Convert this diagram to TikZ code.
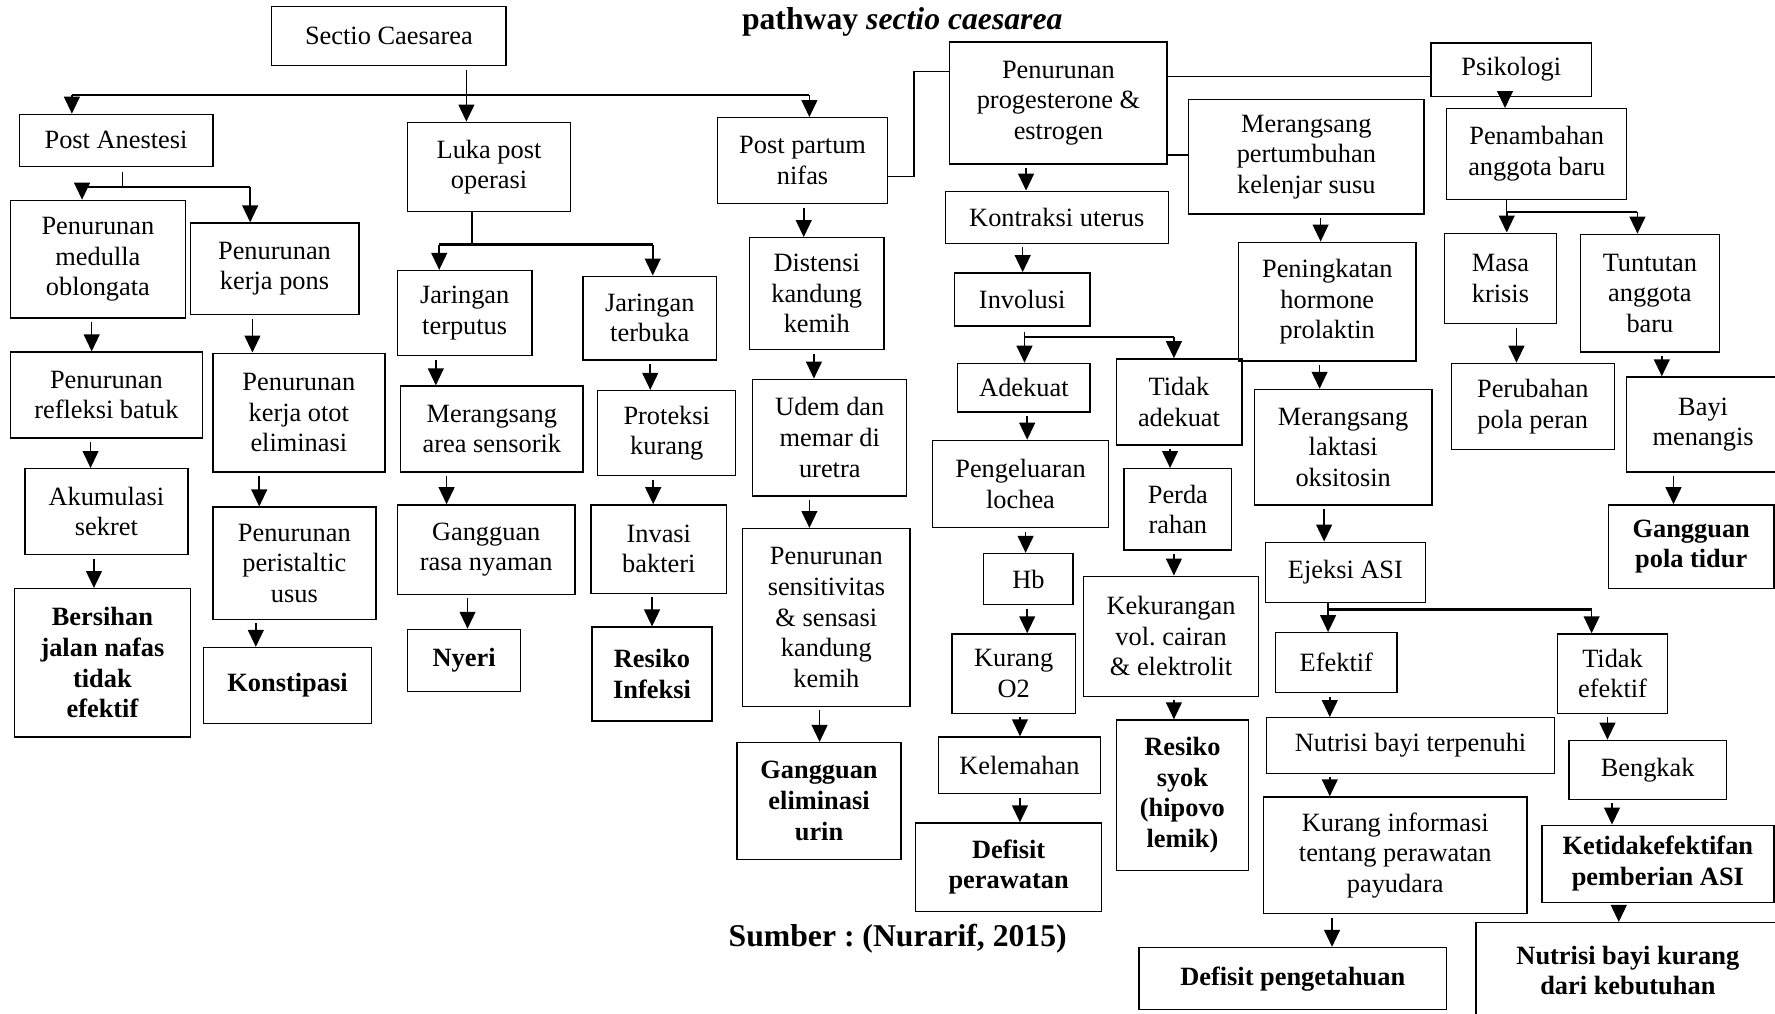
\documentclass[tikz,border=0pt]{standalone}
\usepackage{fontspec}
\setmainfont{Liberation Serif}
\usetikzlibrary{arrows.meta}
\newcommand\mybox[7][]{\node[box,#1,minimum width={#5pt-#3pt},minimum height={#6pt-#4pt}] (#2) at ({(#3+#5)/2},{(#4+#6)/2}) {#7};}
\newcommand\varr[3]{\draw[arr] (#1.south -| #3,0) -- (#2.north -| #3,0);}
\begin{document}
\frenchspacing
\begin{tikzpicture}[x=1pt,y=-1pt,
  box/.style={draw,line width=1.2pt,inner sep=0pt,align=center,font=\fontsize{23.3}{27}\selectfont\frenchspacing},
  bbox/.style={font=\fontsize{23.3}{27}\selectfont\bfseries\frenchspacing},
  arr/.style={line width=1.4pt,shorten <=3pt,-{Triangle[length=15pt,width=14pt]}},
  ln/.style={line width=1.3pt},
  br/.style={line width=2pt}]
\useasboundingbox (0,0) rectangle (1568,895);

% titles
\node[font=\fontsize{28}{32}\selectfont\bfseries\frenchspacing] (title) at (797,19) {pathway \textit{sectio caesarea}};
\node[font=\fontsize{28}{32}\selectfont\bfseries\frenchspacing] (src) at (793,829) {Sumber : (Nurarif, 2015)};

% boxes
\mybox{sc}{240}{6}{447}{58}{Sectio Caesarea}
\mybox{pa}{17}{101}{188}{147}{Post Anestesi}
\mybox{pmo}{9}{177}{164}{281}{Penurunan\\medulla\\oblongata}
\mybox{pkp}{168}{197}{317}{278}{Penurunan\\kerja pons}
\mybox{prb}{9}{311}{179}{387}{Penurunan\\refleksi batuk}
\mybox{aks}{22}{414}{166}{490}{Akumulasi\\sekret}
\mybox[bbox]{bjn}{13}{520}{168}{651}{Bersihan\\jalan nafas\\tidak\\efektif}
\mybox{pkoe}{188}{312}{340}{417}{Penurunan\\kerja otot\\eliminasi}
\mybox{pps}{188}{448}{332}{547}{Penurunan\\peristaltic\\usus}
\mybox[bbox]{kon}{180}{572}{328}{639}{Konstipasi}
\mybox{lp}{360}{108}{504}{187}{Luka post\\operasi}
\mybox{jt}{351}{239}{470}{314}{Jaringan\\terputus}
\mybox{jtb}{515}{244}{633}{318}{Jaringan\\terbuka}
\mybox{mas}{354}{341}{515}{417}{Merangsang\\area sensorik}
\mybox{pk}{528}{345}{650}{420}{Proteksi\\kurang}
\mybox{grn}{351}{446}{508}{525}{Gangguan\\rasa nyaman}
\mybox{ib}{522}{446}{642}{524}{Invasi\\bakteri}
\mybox[bbox]{ny}{360}{556}{460}{611}{Nyeri}
\mybox[bbox]{ri}{523}{554}{629}{637}{Resiko\\Infeksi}
\mybox{ppn}{634}{104}{784}{180}{Post partum\\nifas}
\mybox{dkk}{662}{210}{781}{309}{Distensi\\kandung\\kemih}
\mybox{udm}{665}{335}{801}{438}{Udem dan\\memar di\\uretra}
\mybox{pss}{656}{467}{804}{624}{Penurunan\\sensitivitas\\\& sensasi\\kandung\\kemih}
\mybox[bbox]{gel}{651}{656}{796}{759}{Gangguan\\eliminasi\\urin}
\mybox{ppe}{839}{37}{1031}{145}{Penurunan\\progesterone \&\\estrogen}
\mybox{psi}{1264}{38}{1406}{85}{Psikologi}
\mybox{mpk}{1050}{88}{1258}{189}{Merangsang\\pertumbuhan\\kelenjar susu}
\mybox{ku}{835}{169}{1032}{215}{Kontraksi uterus}
\mybox{inv}{843}{241}{963}{288}{Involusi}
\mybox{ade}{846}{321}{963}{364}{Adekuat}
\mybox{tad}{986}{317}{1097}{393}{Tidak\\adekuat}
\mybox{pl}{824}{389}{979}{466}{Pengeluaran\\lochea}
\mybox{hb}{869}{489}{948}{534}{Hb}
\mybox{ko}{841}{560}{950}{630}{Kurang\\O2}
\mybox{kel}{829}{651}{972}{701}{Kelemahan}
\mybox[bbox]{dp}{809}{727}{973}{805}{Defisit\\perawatan}
\mybox{per}{993}{414}{1088}{486}{Perda\\rahan}
\mybox{kvc}{957}{509}{1112}{615}{Kekurangan\\vol. cairan\\\& elektrolit}
\mybox[bbox]{rs}{986}{636}{1103}{769}{Resiko\\syok\\(hipovo\\lemik)}
\mybox{phr}{1094}{214}{1251}{319}{Peningkatan\\hormone\\prolaktin}
\mybox{mlo}{1108}{344}{1265}{446}{Merangsang\\laktasi\\oksitosin}
\mybox{eja}{1118}{479}{1259}{532}{Ejeksi ASI}
\mybox{ef}{1127}{559}{1234}{612}{Efektif}
\mybox{tef}{1376}{560}{1473}{630}{Tidak\\efektif}
\mybox{nbt}{1119}{634}{1373}{683}{Nutrisi bayi terpenuhi}
\mybox{kip}{1116}{704}{1349}{807}{Kurang informasi\\tentang perawatan\\payudara}
\mybox[bbox]{dpg}{1006}{837}{1278}{892}{Defisit pengetahuan}
\mybox{bgk}{1386}{654}{1525}{706}{Bengkak}
\mybox[bbox]{kpa}{1362}{729}{1567}{797}{Ketidakefektifan\\pemberian ASI}
\mybox[bbox]{nbk}{1304}{815}{1572}{900}{Nutrisi bayi kurang\\dari kebutuhan}
\mybox{pab}{1278}{96}{1437}{176}{Penambahan\\anggota baru}
\mybox{mk}{1276}{206}{1375}{286}{Masa\\krisis}
\mybox{tab}{1396}{207}{1519}{311}{Tuntutan\\anggota\\baru}
\mybox{ppp}{1282}{321}{1426}{397}{Perubahan\\pola peran}
\mybox{bym}{1437}{333}{1572}{417}{Bayi\\menangis}
\mybox[bbox]{gpt}{1421}{446}{1567}{520}{Gangguan\\pola tidur}

% Sectio branches
\coordinate (j1l) at (63.5,84); \coordinate (j1r) at (715,84);
\draw[br] (j1l) -- (j1r);
\draw[arr] (sc.south -| 412,0) -- (lp.north -| 412,0);
\draw[arr,shorten <=0pt] (j1l) -- (pa.north -| j1l);
\draw[arr,shorten <=0pt] (j1r) -- (ppn.north -| j1r);

% Post Anestesi branches
\coordinate (j2) at (108,165); \coordinate (j2l) at (72.5,165); \coordinate (j2r) at (221,165);
\draw[ln,shorten <=4pt] (pa.south -| j2) -- (j2);
\draw[br] (j2l) -- (j2r);
\draw[arr,shorten <=0pt] (j2l) -- (pmo.north -| j2l);
\draw[arr,shorten <=0pt] (j2r) -- (pkp.north -| j2r);
\varr{pmo}{prb}{81}
\varr{prb}{aks}{80}
\varr{aks}{bjn}{83}
\varr{pkp}{pkoe}{223}
\varr{pkoe}{pps}{229}
\varr{pps}{kon}{226}

% Luka post operasi branches
\coordinate (j3) at (417,216); \coordinate (j3l) at (388,216); \coordinate (j3r) at (576.6,216);
\draw[ln] (lp.south -| j3) -- (j3);
\draw[br] (j3l) -- (j3r);
\draw[arr,shorten <=0pt] (j3l) -- (jt.north -| j3l);
\draw[arr,shorten <=0pt] (j3r) -- (jtb.north -| j3r);
\varr{jt}{mas}{385}
\varr{mas}{grn}{394.5}
\varr{grn}{ny}{413}
\varr{jtb}{pk}{574.4}
\varr{pk}{ib}{577}
\varr{ib}{ri}{576}

% Post partum
\varr{ppn}{dkk}{710}
\varr{dkk}{udm}{719}
\varr{udm}{pss}{715}
\varr{pss}{gel}{724}
\coordinate (k1) at (807.5,156); \coordinate (k2) at (807.5,63.3);
\draw[ln] (ppn.east |- k1) -- (k1) -- (k2) -- (ppe.west |- k2);
\draw[ln] (ppe.east |- 0,67.7) -- (psi.west |- 0,67.7);
\draw[ln] (ppe.east |- 0,137) -- (mpk.west |- 0,137);

% progesterone column
\varr{ppe}{ku}{906.4}
\varr{ku}{inv}{903.4}
\coordinate (j4l) at (905,297.4); \coordinate (j4r) at (1037,297.4);
\draw[ln,shorten <=5pt] (inv.south -| j4l) -- (j4l);
\draw[br] (j4l) -- (j4r);
\draw[arr,shorten <=0pt] (j4l) -- (ade.north -| j4l);
\draw[arr,shorten <=0pt] (j4r) -- (tad.north -| j4r);
\varr{ade}{pl}{907.4}
\varr{pl}{hb}{906}
\varr{hb}{ko}{907.4}
\varr{ko}{kel}{901}
\varr{kel}{dp}{901}
\varr{tad}{per}{1033.6}
\varr{per}{kvc}{1037}
\varr{kvc}{rs}{1037}

% kelenjar susu column
\varr{mpk}{phr}{1166.6}
\varr{phr}{mlo}{1165.7}
\varr{mlo}{eja}{1169.7}
\coordinate (j5l) at (1173.2,538.3); \coordinate (j5r) at (1406,538.3);
\draw[ln] (eja.south -| j5l) -- (j5l);
\draw[br] (j5l) -- (j5r);
\draw[arr,shorten <=0pt] (j5l) -- (ef.north -| j5l);
\draw[arr,shorten <=0pt] (j5r) -- (tef.north -| j5r);
\varr{ef}{nbt}{1174.7}
\varr{nbt}{kip}{1174.7}
\varr{kip}{dpg}{1176.7}
\varr{tef}{bgk}{1420}
\varr{bgk}{kpa}{1424}
\varr{kpa}{nbk}{1430}

% Psikologi column
\varr{psi}{pab}{1329.5}
\coordinate (j6l) at (1331,187); \coordinate (j6r) at (1446.5,187);
\draw[ln] (pab.south -| j6l) -- (j6l);
\draw[br] (j6l) -- (j6r);
\draw[arr,shorten <=0pt] (j6l) -- (mk.north -| j6l);
\draw[arr,shorten <=0pt] (j6r) -- (tab.north -| j6r);
\varr{mk}{ppp}{1339.6}
\varr{tab}{bym}{1468}
\varr{bym}{gpt}{1478.3}
\end{tikzpicture}
\end{document}
